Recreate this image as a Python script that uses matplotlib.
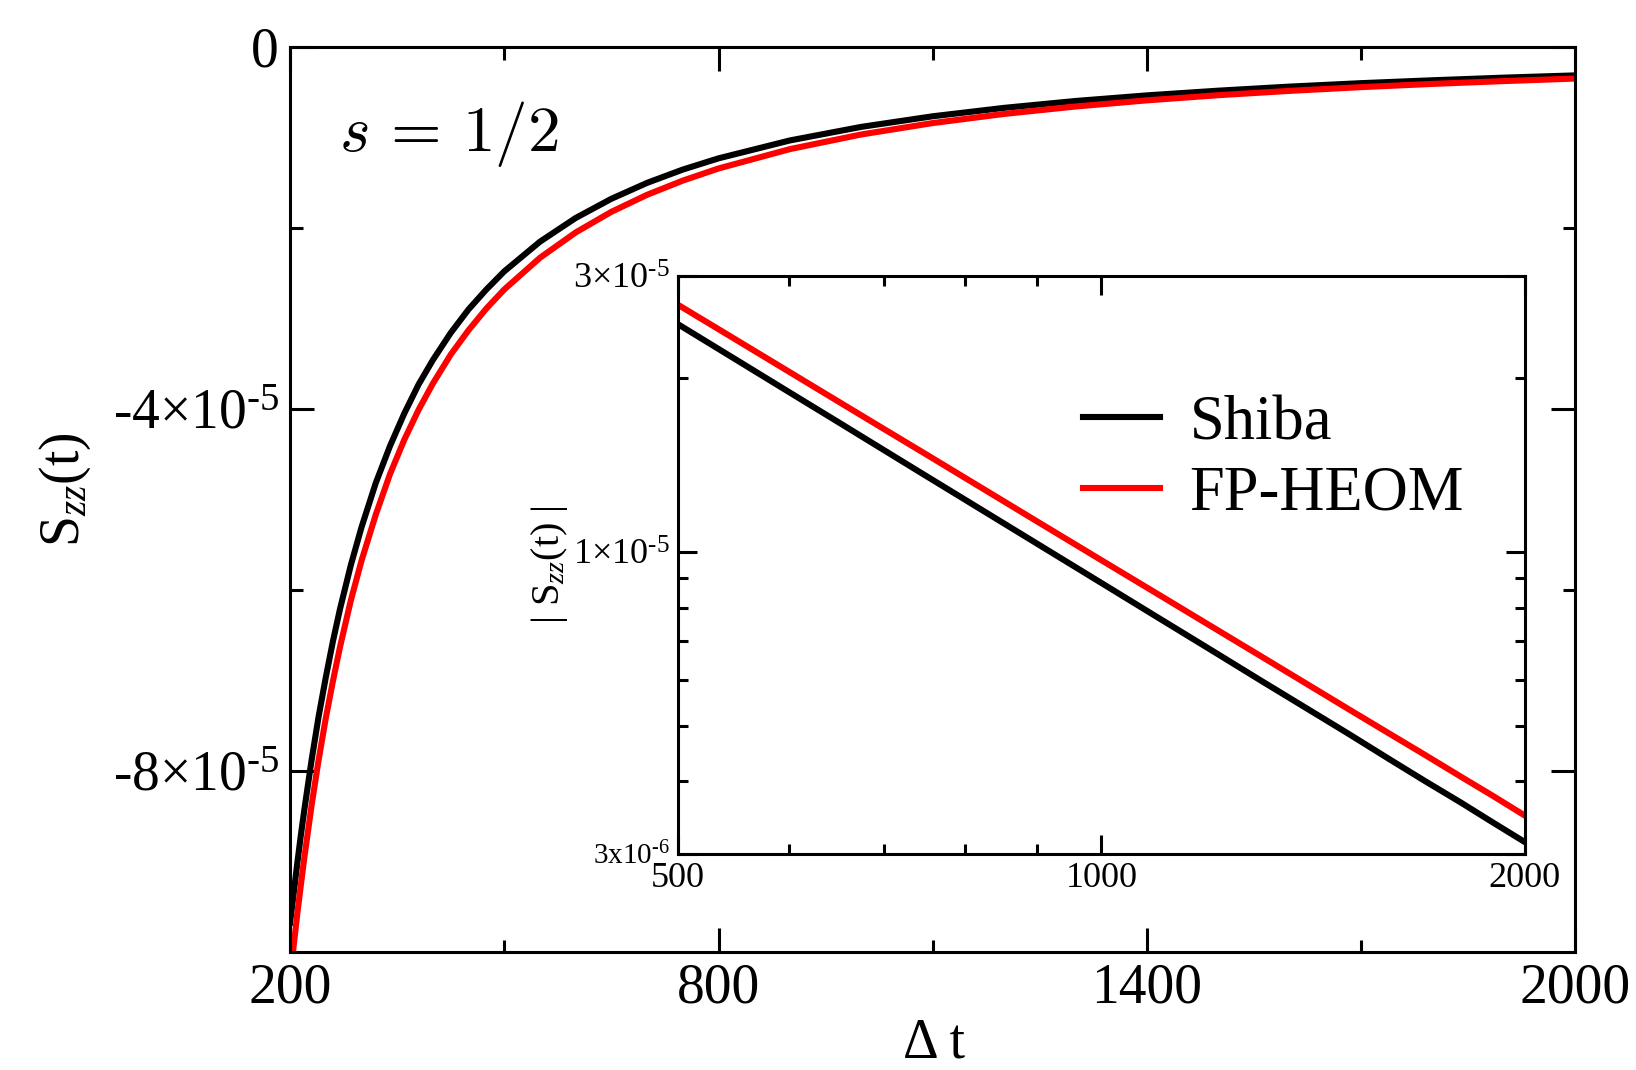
import matplotlib
matplotlib.use('Agg')
import matplotlib.pyplot as plt
from matplotlib.ticker import NullFormatter

plt.rcParams['font.family'] = ['Liberation Serif', 'DejaVu Serif']
plt.rcParams['mathtext.fontset'] = 'custom'
plt.rcParams['mathtext.rm'] = 'Liberation Serif'
plt.rcParams['mathtext.it'] = 'Liberation Serif:italic'
plt.rcParams['mathtext.bf'] = 'Liberation Serif:bold'

'''Data read off the figure'''
t = [200, 205, 210, 215, 220, 230, 240, 250, 260, 270, 285, 300, 320, 340,
     360, 380, 400, 425, 450, 475, 500, 550, 600, 650, 700, 750, 800, 900,
     1000, 1100, 1200, 1300, 1400, 1500, 1600, 1700, 1800, 1900, 2000]
shiba = [-9.68e-5, -9.36e-5, -9.03e-5, -8.72e-5, -8.43e-5, -7.89e-5, -7.40e-5,
         -6.97e-5, -6.57e-5, -6.21e-5, -5.73e-5, -5.31e-5, -4.82e-5, -4.41e-5,
         -4.05e-5, -3.73e-5, -3.46e-5, -3.16e-5, -2.90e-5, -2.68e-5, -2.48e-5,
         -2.152e-5, -1.890e-5, -1.678e-5, -1.502e-5, -1.355e-5, -1.231e-5,
         -1.033e-5, -8.83e-6, -7.66e-6, -6.73e-6, -5.97e-6, -5.35e-6, -4.83e-6,
         -4.38e-6, -4.00e-6, -3.68e-6, -3.39e-6, -3.14e-6]
fp_heom = [-1.030e-4, -9.94e-5, -9.59e-5, -9.27e-5, -8.96e-5, -8.39e-5, -7.88e-5,
           -7.42e-5, -7.01e-5, -6.63e-5, -6.12e-5, -5.68e-5, -5.17e-5, -4.72e-5,
           -4.34e-5, -4.01e-5, -3.72e-5, -3.40e-5, -3.13e-5, -2.89e-5, -2.68e-5,
           -2.330e-5, -2.050e-5, -1.822e-5, -1.634e-5, -1.477e-5, -1.343e-5,
           -1.129e-5, -9.67e-6, -8.41e-6, -7.40e-6, -6.58e-6, -5.90e-6, -5.33e-6,
           -4.85e-6, -4.44e-6, -4.08e-6, -3.77e-6, -3.49e-6]

HY = '\u2010'  # short hyphen for the exponents, as in the original
main_xticks = [200, 800, 1400, 2000]
main_xminor = [500, 1100, 1700]
main_yticks = [-8e-5, -4e-5, 0]
main_ylabels = [r'-8$\times$10$^{%s5}$' % HY, r'-4$\times$10$^{%s5}$' % HY, '0']
main_yminor = [-6e-5, -2e-5]

inset_xticks = [500, 1000, 2000]
inset_xminor = [600, 700, 800, 900]
inset_yticks = [3e-6, 1e-5, 3e-5]
inset_ylabels = [r'3x10$^{%s6}$' % HY, r'1$\times$10$^{%s5}$' % HY,
                 r'3$\times$10$^{%s5}$' % HY]
inset_yminor = [4e-6, 5e-6, 6e-6, 7e-6, 8e-6, 9e-6, 2e-5]

'''Main panel'''
fig = plt.figure(figsize=(16.36, 10.70), dpi=100)
ax = fig.add_axes([0.1773, 0.1106, 0.7857, 0.8455])
ax.plot(t, shiba, color='k', lw=4.4)
ax.plot(t, fp_heom, color='r', lw=4.4)
ax.set_xlim(200, 2000)
ax.set_ylim(-1e-4, 0)
ax.set_xticks(main_xticks)
ax.set_xticklabels([str(v) for v in main_xticks])
ax.set_xticks(main_xminor, minor=True)
ax.set_yticks(main_yticks)
ax.set_yticklabels(main_ylabels)
ax.set_yticks(main_yminor, minor=True)
ax.tick_params(which='both', direction='in', top=True, right=True, width=2.2)
ax.tick_params(which='major', length=17, labelsize=40, pad=8)
ax.tick_params(which='minor', length=9)
for sp in ax.spines.values():
    sp.set_linewidth(2.2)

ax.text(0.038, 0.904, r'$s\,=\,1/2$', transform=ax.transAxes, fontsize=47,
        math_fontfamily='cm', ha='left', va='center')
fig.text(0.040, 0.542, r'S$_{zz}$(t)', rotation=90, fontsize=40,
         ha='center', va='center')
fig.text(0.571, 0.025, 'Δ t', fontsize=40, ha='center', va='center')

'''Inset: |S_zz| on log-log'''
ins = fig.add_axes([0.4144, 0.2023, 0.5177, 0.5393])
ins.plot(t, [abs(v) for v in shiba], color='k', lw=4.4, label='Shiba')
ins.plot(t, [abs(v) for v in fp_heom], color='r', lw=4.4, label='FP-HEOM')
ins.set_xscale('log')
ins.set_yscale('log')
ins.set_xlim(500, 2000)
ins.set_ylim(3e-6, 3e-5)
ins.set_xticks(inset_xticks)
ins.set_xticklabels([str(v) for v in inset_xticks])
ins.set_xticks(inset_xminor, minor=True)
ins.set_yticks(inset_yticks)
ins.set_yticklabels(inset_ylabels)
ins.set_yticks(inset_yminor, minor=True)
ins.xaxis.set_minor_formatter(NullFormatter())
ins.yaxis.set_minor_formatter(NullFormatter())
ins.tick_params(which='both', direction='in', top=True, right=True, width=2.2)
ins.tick_params(which='major', length=14, labelsize=26, pad=6)
ins.tick_params(which='minor', length=7)
ins.get_yticklabels()[0].set_fontsize(21)
for sp in ins.spines.values():
    sp.set_linewidth(2.2)
ins.set_ylabel(r'| S$_{zz}$(t) |', fontsize=29, labelpad=2)

ins.legend(loc='upper left', bbox_to_anchor=(0.478, 0.794), frameon=False,
           fontsize=45, handlelength=1.23, handletextpad=0.48,
           labelspacing=0.2, borderpad=0, borderaxespad=0)

plt.savefig('out.png', dpi=100)
